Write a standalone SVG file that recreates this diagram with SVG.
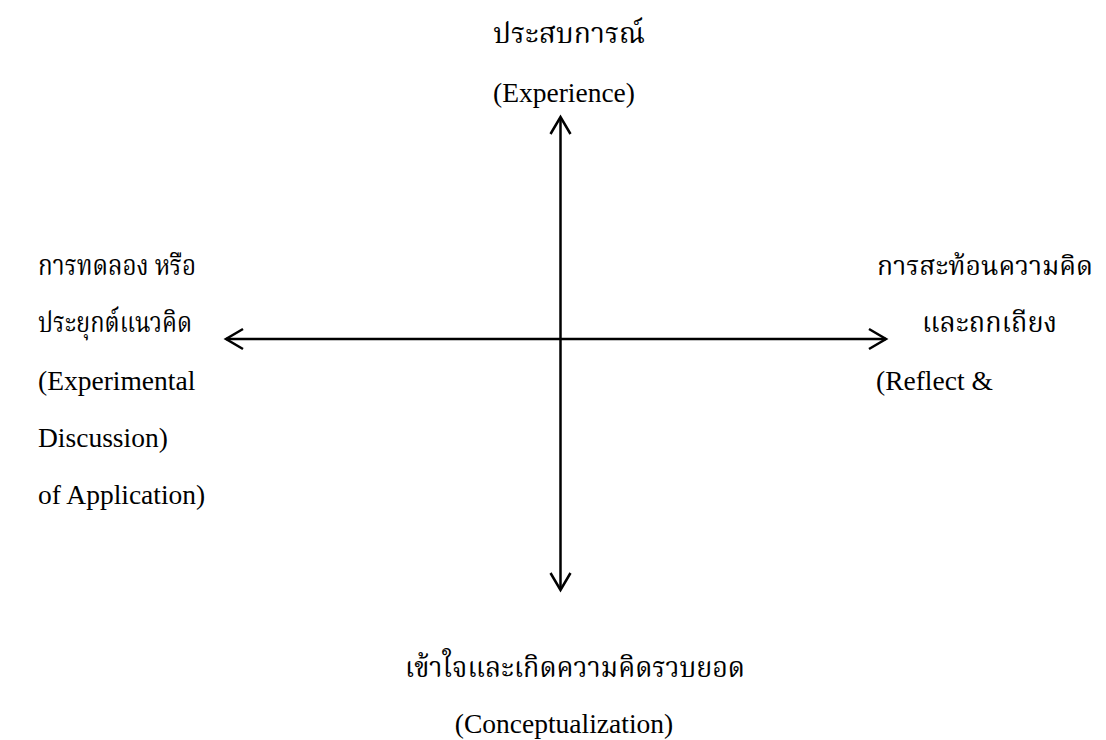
<svg xmlns="http://www.w3.org/2000/svg" width="1106" height="740" viewBox="0 0 1106 740">
  <style>
    .t { font-family: "Liberation Serif", "Noto Serif Thai", "Noto Sans Thai", "DejaVu Serif", serif; font-size: 27.5px; fill: #000; }
    .th { font-family: "Liberation Serif", "Noto Serif Thai", "Noto Sans Thai", "DejaVu Serif", serif; font-size: 29px; fill: #000; }
    .ax { stroke: #000; stroke-width: 2.5; fill: none; }
  </style>
  <defs>
    <marker id="ah" markerUnits="userSpaceOnUse" markerWidth="24" markerHeight="26" viewBox="-20 -13 24 26" refX="0" refY="0" orient="auto-start-reverse">
      <path d="M -17 -10 L 0 0 L -17 10" fill="none" stroke="#000" stroke-width="2.5"/>
    </marker>
  </defs>
  <rect width="1106" height="740" fill="#fff"/>
  <g id="connectors">
    <line class="ax" x1="560.5" y1="117" x2="560.5" y2="590" marker-start="url(#ah)" marker-end="url(#ah)"/>
    <line class="ax" x1="226" y1="339" x2="886" y2="339" marker-start="url(#ah)" marker-end="url(#ah)"/>
  </g>
  <g id="node-top">
    <text class="th" x="493" y="43" textLength="152" lengthAdjust="spacingAndGlyphs">ประสบการณ์</text>
    <text class="t" x="564" y="102" text-anchor="middle">(Experience)</text>
  </g>
  <g id="node-left">
    <text class="th" x="38" y="275" textLength="158" lengthAdjust="spacingAndGlyphs">การทดลอง หรือ</text>
    <text class="th" x="38" y="332" textLength="154" lengthAdjust="spacingAndGlyphs">ประยุกต์แนวคิด</text>
    <text class="t" x="38" y="390">(Experimental</text>
    <text class="t" x="38" y="447">Discussion)</text>
    <text class="t" x="38" y="504">of Application)</text>
  </g>
  <g id="node-right">
    <text class="th" x="877" y="275" font-size="27" style="font-size:27px" textLength="216" lengthAdjust="spacingAndGlyphs">การสะท้อนความคิด</text>
    <text class="th" x="922" y="332" textLength="135" lengthAdjust="spacingAndGlyphs">และถกเถียง</text>
    <text class="t" x="876" y="390">(Reflect &amp;</text>
  </g>
  <g id="node-bottom">
    <text class="th" x="405" y="677" textLength="340" lengthAdjust="spacingAndGlyphs">เข้าใจและเกิดความคิดรวบยอด</text>
    <text class="t" x="564" y="733" text-anchor="middle">(Conceptualization)</text>
  </g>
</svg>
